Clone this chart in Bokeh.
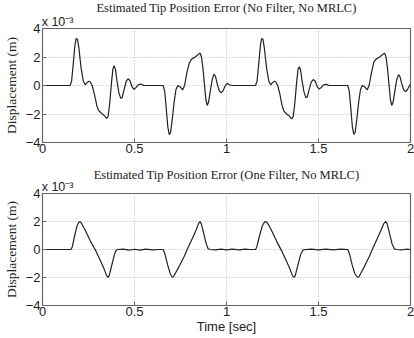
from bokeh.plotting import figure
from bokeh.layouts import column
from bokeh.models import FixedTicker, Range1d, LinearAxis
from bokeh.embed import file_html
from bokeh.resources import INLINE

# Values in units of 1e-3 m
t_top = [0.0, 0.15, 0.158, 0.167, 0.176, 0.183, 0.19, 0.198, 0.21, 0.222, 0.232, 0.242, 0.252, 0.26, 0.27,
         0.282, 0.295, 0.305, 0.32, 0.335, 0.348, 0.356, 0.365, 0.375, 0.383, 0.39, 0.397, 0.405, 0.415,
         0.425, 0.433, 0.445, 0.455, 0.465, 0.475, 0.487, 0.497, 0.507, 0.52, 0.535, 0.55, 0.6, 0.656,
         0.664, 0.672, 0.681, 0.689, 0.696, 0.705, 0.715, 0.725, 0.735, 0.748, 0.762, 0.772, 0.785, 0.798,
         0.81, 0.83, 0.848, 0.856, 0.864, 0.872, 0.88, 0.888, 0.895, 0.902, 0.912, 0.922, 0.932, 0.94,
         0.95, 0.96, 0.97, 0.98, 0.992, 1.004, 1.015, 1.03, 1.1, 1.158,
         1.166, 1.175, 1.184, 1.191, 1.198, 1.206, 1.218, 1.23, 1.24, 1.25, 1.26, 1.268, 1.278,
         1.29, 1.302, 1.312, 1.327, 1.342, 1.354, 1.362, 1.371, 1.381, 1.389, 1.396, 1.403, 1.411, 1.421,
         1.431, 1.439, 1.451, 1.461, 1.472, 1.482, 1.494, 1.504, 1.514, 1.527, 1.542, 1.557, 1.6, 1.659,
         1.667, 1.675, 1.684, 1.692, 1.699, 1.708, 1.718, 1.728, 1.738, 1.751, 1.765, 1.775, 1.788, 1.801,
         1.813, 1.833, 1.851, 1.859, 1.867, 1.875, 1.883, 1.891, 1.898, 1.905, 1.915, 1.925, 1.935, 1.943,
         1.953, 1.963, 1.973, 1.983, 1.995, 2.0]
e_top = [0.0, 0.0, 0.3, 1.5, 2.8, 3.3, 3.25, 2.6, 1.2, 0.3, 0.05, 0.2, 0.3, 0.25, 0.0,
         -0.6, -1.4, -1.75, -1.95, -2.1, -2.3, -2.2, -1.3, 0.2, 1.2, 1.38, 1.1, 0.3, -0.5,
         -0.9, -0.85, -0.2, 0.3, 0.47, 0.35, -0.1, -0.28, -0.15, 0.05, 0.1, 0.0, 0.0, 0.0,
         -0.4, -1.5, -2.9, -3.45, -3.3, -2.4, -1.2, -0.3, 0.0, -0.1, -0.3, 0.0, 0.9, 1.6,
         1.85, 2.0, 2.2, 2.28, 2.0, 1.2, 0.1, -1.0, -1.4, -1.2, -0.4, 0.4, 0.8, 0.65,
         0.1, -0.35, -0.5, -0.4, -0.05, 0.15, 0.05, 0.0, 0.0, 0.0,
         0.3, 1.5, 2.8, 3.3, 3.25, 2.6, 1.2, 0.3, 0.05, 0.2, 0.3, 0.25, 0.0,
         -0.6, -1.4, -1.8, -2.0, -2.15, -2.35, -2.2, -1.3, 0.2, 1.15, 1.32, 1.05, 0.3, -0.45,
         -0.85, -0.8, -0.2, 0.25, 0.42, 0.3, -0.1, -0.25, -0.15, 0.05, 0.08, 0.0, 0.0, 0.0,
         -0.4, -1.5, -2.9, -3.43, -3.3, -2.4, -1.2, -0.3, 0.0, -0.1, -0.3, 0.0, 0.9, 1.65,
         1.85, 2.0, 2.2, 2.27, 2.0, 1.2, 0.1, -1.0, -1.4, -1.2, -0.4, 0.4, 0.76, 0.6,
         0.1, -0.3, -0.43, -0.3, 0.0, 0.1]

t_bot = [0.0, 0.155, 0.162, 0.175, 0.188, 0.198, 0.206, 0.215, 0.235, 0.26, 0.29, 0.315, 0.335, 0.348,
         0.356, 0.363, 0.375, 0.39, 0.4, 0.41, 0.44, 0.47, 0.5, 0.53, 0.56, 0.6, 0.63, 0.656,
         0.665, 0.68, 0.695, 0.705, 0.712, 0.722, 0.745, 0.77, 0.79, 0.815, 0.835, 0.848, 0.856, 0.863,
         0.875, 0.89, 0.9, 0.91, 0.94, 0.97, 1.0, 1.03, 1.07, 1.1, 1.13, 1.158,
         1.165, 1.18, 1.195, 1.207, 1.217, 1.227, 1.247, 1.272, 1.3, 1.325, 1.345, 1.358, 1.367, 1.374,
         1.386, 1.402, 1.415, 1.43, 1.46, 1.5, 1.54, 1.58, 1.62, 1.659, 1.668, 1.683, 1.698, 1.712,
         1.72, 1.73, 1.752, 1.776, 1.796, 1.82, 1.84, 1.855, 1.866, 1.873, 1.885, 1.9, 1.912, 1.925,
         1.95, 1.975, 2.0]
e_bot = [0.0, 0.0, 0.2, 1.0, 1.7, 1.97, 1.98, 1.8, 1.3, 0.6, -0.1, -0.8, -1.4, -1.85,
         -2.0, -1.85, -1.2, -0.4, -0.05, 0.0, 0.03, -0.05, 0.02, -0.04, 0.03, -0.03, 0.0, 0.0,
         -0.3, -1.1, -1.75, -1.98, -1.95, -1.7, -1.15, -0.5, 0.1, 0.8, 1.4, 1.85, 2.0, 1.85,
         1.2, 0.4, 0.05, 0.0, -0.03, 0.03, -0.03, 0.02, -0.03, 0.02, 0.0, 0.0,
         0.2, 1.0, 1.7, 1.97, 1.98, 1.8, 1.3, 0.6, -0.1, -0.8, -1.4, -1.85, -2.0, -1.85,
         -1.2, -0.4, -0.05, 0.0, 0.03, -0.03, 0.02, -0.03, 0.02, 0.0, -0.3, -1.1, -1.75, -1.98,
         -1.95, -1.7, -1.15, -0.5, 0.1, 0.8, 1.4, 1.85, 2.0, 1.85, 1.2, 0.4, 0.05, 0.0,
         -0.03, 0.02, 0.0]

x_ticks = [0, 0.5, 1, 1.5, 2]
x_tick_labels = {0: "0", 0.5: "0.5", 1: "1", 1.5: "1.5", 2: "2"}
y_ticks = [-4, -2, 0, 2, 4]
titles = ["Estimated Tip Position Error (No Filter, No MRLC)",
          "Estimated Tip Position Error (One Filter, No MRLC)"]
y_label = "Displacement (m)"
x_label = "Time [sec]"
scale_label = "x 10\u207b\u00b3"

SERIF = "Liberation Serif"
SANS = "Liberation Sans"


def make_panel(t, e, title, top, bottom, title_standoff, with_xlabel):
    p = figure(width=414, height=169, output_backend="svg", toolbar_location=None,
               x_range=Range1d(0, 2), y_range=Range1d(-4, 4),
               min_border_left=36, min_border_right=4, min_border_top=top,
               min_border_bottom=bottom, background_fill_color="white",
               border_fill_color="white")
    p.title.text = title
    p.title.align = "center"
    p.title.text_font = SERIF
    p.title.text_font_size = "12.5px"
    p.title.text_font_style = "normal"
    p.title.text_color = "#222222"
    p.title.offset = 0
    p.title.standoff = title_standoff
    p.outline_line_color = "#666666"
    p.outline_line_width = 1.2

    xa = p.below[0]
    ya = p.left[0]
    xa.ticker = FixedTicker(ticks=x_ticks)
    xa.major_label_overrides = x_tick_labels
    ya.ticker = FixedTicker(ticks=y_ticks)
    for ax in (xa, ya):
        ax.major_tick_in = 4
        ax.major_tick_out = 0
        ax.minor_tick_in = 0
        ax.minor_tick_out = 0
        ax.axis_line_color = "#666666"
        ax.major_tick_line_color = "#666666"
        ax.major_label_text_font = SANS
        ax.major_label_text_font_size = "13px"
        ax.major_label_text_color = "#222222"
    xa.major_label_standoff = 1
    ya.major_label_standoff = 2
    ya.axis_label = y_label
    ya.axis_label_text_font = SERIF
    ya.axis_label_text_font_size = "13.5px"
    ya.axis_label_text_font_style = "normal"
    ya.axis_label_text_color = "#222222"
    ya.axis_label_standoff = 4
    if with_xlabel:
        xa.axis_label = x_label
        xa.axis_label_text_font = SANS
        xa.axis_label_text_font_size = "13px"
        xa.axis_label_text_font_style = "normal"
        xa.axis_label_text_color = "#222222"
        xa.axis_label_standoff = 0

    p.grid.grid_line_color = "#b5b5b5"
    p.grid.grid_line_dash = "1 2"
    p.grid.grid_line_width = 1
    p.xgrid.ticker = FixedTicker(ticks=[0.5, 1, 1.5])
    p.ygrid.ticker = FixedTicker(ticks=[-2, 0, 2])

    # scale factor text, placed just above the top-left corner of the frame
    sa = LinearAxis(ticker=FixedTicker(ticks=[0.082]),
                    major_label_overrides={0.082: scale_label},
                    axis_line_color=None, major_tick_line_color=None,
                    minor_tick_line_color=None, major_tick_in=0, major_tick_out=0,
                    minor_tick_in=0, minor_tick_out=0, major_label_standoff=0,
                    major_label_text_font=SANS, major_label_text_font_size="12.5px",
                    major_label_text_color="#222222")
    p.add_layout(sa, "above")

    p.line(t, e, line_color="#222222", line_width=1.2)
    return p


p1 = make_panel(t_top, e_top, titles[0], 28, 27, -7, False)
p2 = make_panel(t_bot, e_bot, titles[1], 24, 33, -11, True)
layout = column(p1, p2, spacing=0)

open("out.html", "w").write(file_html(layout, INLINE))
